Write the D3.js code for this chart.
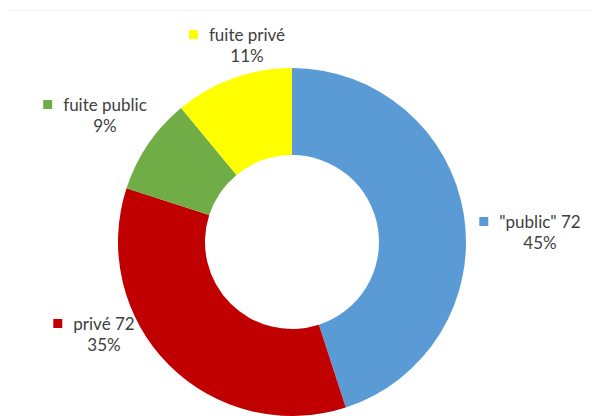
<!DOCTYPE html>
<html><head><meta charset="utf-8">
<script src="https://cdn.jsdelivr.net/npm/d3@7"></script>
<style>body{margin:0;background:#fff}svg{display:block}</style>
</head><body>
<svg id="c" width="593" height="416"></svg>
<script>
const categories = ['"public" 72', 'privé 72', 'fuite public', 'fuite privé'];
const values = [45, 35, 9, 11];
const percentLabels = ['45%', '35%', '9%', '11%'];
const colors = ['#5B9BD5', '#C00000', '#70AD47', '#FFFF00'];

const svg = d3.select('#c');
const W = 593, H = 416;
const cx = 292, cy = 242, R = 174, r0 = 87;

svg.append('line').attr('x1', 8).attr('x2', W).attr('y1', 10.5).attr('y2', 10.5)
  .attr('stroke', '#f2f2f2').attr('stroke-width', 1);

const pie = d3.pie().sort(null).value(d => d.v);
const data = categories.map((c, i) => ({c, v: values[i], p: percentLabels[i], col: colors[i]}));
const arcs = pie(data);
const arc = d3.arc().innerRadius(r0).outerRadius(R);

const g = svg.append('g').attr('transform', `translate(${cx},${cy})`);
g.selectAll('path').data(arcs).enter().append('path')
  .attr('d', arc).attr('fill', d => d.data.col);

// label layout: text centre x, first baseline y, relative to chart centre
const labelPos = {
  '"public" 72': [248, -14],
  'privé 72': [-188, 88],
  'fuite public': [-187, -131],
  'fuite privé': [-45, -201]
};
const font = 'Lato, "Open Sans", sans-serif';
arcs.forEach(d => {
  const [dx, dy] = labelPos[d.data.c];
  const lg = g.append('g').attr('transform', `translate(${dx},${dy})`);
  const t = lg.append('text').attr('x', 0).attr('y', 0)
    .attr('text-anchor', 'middle').attr('font-family', font).attr('font-size', 17)
    .attr('fill', '#404040').text(d.data.c);
  const w = t.node().getComputedTextLength();
  lg.append('rect').attr('x', -w / 2 - 20).attr('y', -11).attr('width', 9).attr('height', 9)
    .attr('fill', d.data.col);
  lg.append('text').attr('x', 0).attr('y', 21)
    .attr('text-anchor', 'middle').attr('font-family', font).attr('font-size', 17)
    .attr('fill', '#404040').text(d.data.p);
});
</script>
</body></html>
